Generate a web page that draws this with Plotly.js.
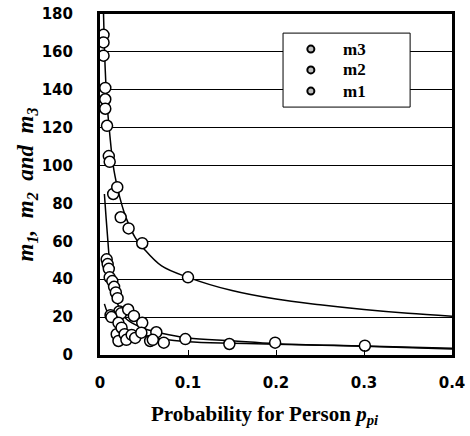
<!DOCTYPE html>
<html>
<head>
<meta charset="utf-8">
<script src="https://cdn.plot.ly/plotly-3.0.1.min.js"></script>
<style>html,body{margin:0;padding:0;background:#fff;}#chart{width:470px;height:436px;}</style>
</head>
<body>
<div id="chart"></div>
<script>
// Observed points
const m3X = [0.004, 0.004, 0.004, 0.006, 0.006, 0.006, 0.008, 0.010, 0.011, 0.015, 0.0196, 0.0235, 0.0325, 0.048, 0.1];
const m3Y = [169, 165, 158, 141, 135, 130, 121, 105, 102, 85, 88.6, 72.7, 66.8, 59, 41];

const m2X = [0.0076, 0.0087, 0.010, 0.011, 0.014, 0.016, 0.018, 0.020, 0.022, 0.024, 0.032, 0.0385, 0.048, 0.064, 0.097];
const m2Y = [50.5, 48, 45.5, 41, 39, 36, 33, 30, 23, 22, 24, 20.6, 17, 12, 8.4];

const m1X = [0.012, 0.013, 0.019, 0.021, 0.021, 0.0245, 0.028, 0.030, 0.036, 0.040, 0.047, 0.057, 0.060, 0.0725, 0.147, 0.199, 0.301];
const m1Y = [21, 20, 11, 17, 7.4, 14.4, 11, 8, 10.6, 9, 11.8, 7.4, 8, 6.5, 5.8, 6.5, 4.9];

// Fitted curves
const fit3X = [0.004, 0.006, 0.008, 0.011, 0.015, 0.02, 0.025, 0.03, 0.04, 0.05, 0.07, 0.1, 0.15, 0.2, 0.25, 0.3, 0.35, 0.4];
const fit3Y = [180, 150, 133, 117, 100, 88, 79, 72, 62, 56, 47, 41, 34, 29.5, 26.5, 24, 22, 20.5];

const fit2X = [0.005, 0.007, 0.009, 0.011, 0.013, 0.016, 0.02, 0.025, 0.03, 0.04, 0.05, 0.07, 0.1, 0.15, 0.2, 0.3, 0.4];
const fit2Y = [85, 72, 60, 48, 40, 33, 27, 22, 19, 16, 14, 11.5, 9, 7.5, 6, 4.8, 3.6];

const fit1X = [0.005, 0.008, 0.012, 0.017, 0.025, 0.035, 0.054, 0.07, 0.1, 0.15, 0.2, 0.3, 0.4];
const fit1Y = [27, 23, 20, 17, 14, 12, 10, 8.5, 7, 6.2, 5.7, 4.6, 3.2];

const seriesNames = ['m3', 'm2', 'm1'];
const xTitleText = 'Probability for Person <i>p</i><sub><i>pi</i></sub>';

const markerStyle = {symbol: 'circle', size: 11, color: '#ffffff', line: {color: '#000000', width: 1.5}};
const lineStyle = {color: '#000000', width: 1.5, shape: 'spline'};

const traces = [
  {x: fit3X, y: fit3Y, mode: 'lines', line: lineStyle, name: 'fit m3', hoverinfo: 'skip'},
  {x: fit2X, y: fit2Y, mode: 'lines', line: lineStyle, name: 'fit m2', hoverinfo: 'skip'},
  {x: fit1X, y: fit1Y, mode: 'lines', line: lineStyle, name: 'fit m1', hoverinfo: 'skip'},
  {x: m3X, y: m3Y, mode: 'markers', marker: markerStyle, name: seriesNames[0]},
  {x: m2X, y: m2Y, mode: 'markers', marker: markerStyle, name: seriesNames[1]},
  {x: m1X, y: m1Y, mode: 'markers', marker: markerStyle, name: seriesNames[2]}
];

// Legend drawn by hand (box, small circles, labels) in paper coordinates
const legX0 = 0.52, legX1 = 0.881, legY0 = 0.727, legY1 = 0.944;
const legMarkX = 0.599, legTextX = 0.685;
const legRows = [0.897, 0.836, 0.774];

const shapes = [{type: 'rect', xref: 'paper', yref: 'paper', x0: legX0, x1: legX1, y0: legY0, y1: legY1,
  line: {color: '#000', width: 1}, fillcolor: '#ffffff', layer: 'above'}];
const annotations = [];
seriesNames.forEach(function (n, i) {
  shapes.push({type: 'circle', xref: 'paper', yref: 'paper', xsizemode: 'pixel', ysizemode: 'pixel',
    xanchor: legMarkX, yanchor: legRows[i], x0: -3.5, x1: 3.5, y0: -3.5, y1: 3.5,
    line: {color: '#000', width: 2}, fillcolor: '#bdbdbd', layer: 'above'});
  annotations.push({xref: 'paper', yref: 'paper', x: legTextX, y: legRows[i], xanchor: 'left', yanchor: 'middle',
    text: n, showarrow: false,
    font: {family: 'Liberation Serif', size: 17, color: '#000', weight: 'bold'}});
});
// x-axis title (placed as in the reference, slightly left of centre)
annotations.push({xref: 'paper', yref: 'paper', x: 0.469, y: -0.176, xanchor: 'center', yanchor: 'middle',
  text: xTitleText, showarrow: false,
  font: {family: 'Liberation Serif', size: 21, color: '#000', weight: 'bold'}});

const layout = {
  width: 470, height: 436,
  margin: {l: 100, r: 18, t: 14, b: 81},
  paper_bgcolor: '#ffffff', plot_bgcolor: '#ffffff',
  showlegend: false,
  shapes: shapes,
  annotations: annotations,
  xaxis: {
    range: [0, 0.4], dtick: 0.1, tick0: 0,
    showgrid: false, zeroline: false,
    showline: true, mirror: true, linecolor: '#000', linewidth: 3,
    ticks: 'inside', ticklen: 5, tickcolor: '#000', tickwidth: 1,
    ticklabelstandoff: 12,
    tickfont: {family: 'DejaVu Sans', size: 15, color: '#000', weight: 'bold'}
  },
  yaxis: {
    range: [0, 180], dtick: 20, tick0: 0,
    showgrid: true, gridcolor: '#000', gridwidth: 1,
    zeroline: false,
    showline: true, mirror: true, linecolor: '#000', linewidth: 3,
    ticks: '', ticklabelstandoff: 21,
    tickfont: {family: 'DejaVu Sans', size: 15, color: '#000', weight: 'bold'},
    title: {text: '<i>m</i><sub><i>1</i></sub><i>,\u00A0 m</i><sub><i>2</i></sub><i>\u00A0 and\u00A0 m</i><sub><i>3</i></sub>', standoff: 2,
      font: {family: 'Liberation Serif', size: 23, color: '#000', weight: 'bold', style: 'italic'}}
  }
};

Plotly.newPlot('chart', traces, layout, {displayModeBar: false, staticPlot: true});
</script>
</body>
</html>
